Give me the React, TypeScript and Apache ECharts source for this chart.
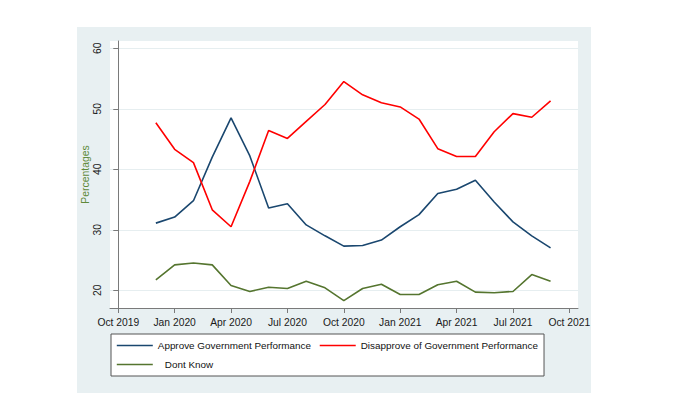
import React, { useEffect, useRef } from "react";
import * as echarts from "echarts";

// Months (YYYY-MM) of each survey point
const months = [
  "2019-12", "2020-01", "2020-02", "2020-03", "2020-04", "2020-05", "2020-06",
  "2020-07", "2020-08", "2020-09", "2020-10", "2020-11", "2020-12", "2021-01",
  "2021-02", "2021-03", "2021-04", "2021-05", "2021-06", "2021-07", "2021-08",
  "2021-09",
];

const approve = [
  31.1, 32.1, 34.8, 42.0, 48.5, 42.2, 33.6, 34.3, 30.8, 29.0, 27.3, 27.4,
  28.3, 30.5, 32.5, 36.0, 36.7, 38.2, 34.6, 31.3, 29.0, 27.0,
];

const disapprove = [
  47.7, 43.3, 41.1, 33.3, 30.5, 38.0, 46.4, 45.1, 47.9, 50.7, 54.5, 52.3,
  51.0, 50.3, 48.3, 43.4, 42.1, 42.1, 46.2, 49.2, 48.6, 51.3,
];

const dontKnow = [
  21.7, 24.2, 24.5, 24.2, 20.8, 19.8, 20.5, 20.3, 21.5, 20.4, 18.3, 20.3,
  21.0, 19.3, 19.3, 20.9, 21.5, 19.7, 19.6, 19.8, 22.6, 21.5,
];

// x tick labels (quarterly)
const xTickMonths = ["2019-10", "2020-01", "2020-04", "2020-07", "2020-10", "2021-01", "2021-04", "2021-07", "2021-10"];
const xTickLabels = ["Oct 2019", "Jan 2020", "Apr 2020", "Jul 2020", "Oct 2020", "Jan 2021", "Apr 2021", "Jul 2021", "Oct 2021"];
const yTicks = [20, 30, 40, 50, 60];

const seriesNames = [
  "Approve Government Performance",
  "Disapprove of Government Performance",
  "Dont Know",
];

function monthIndex(m: string): number {
  const [y, mo] = m.split("-").map(Number);
  return (y - 2019) * 12 + (mo - 10);
}

export default function App() {
  const ref = useRef<HTMLDivElement>(null);

  useEffect(() => {
    if (!ref.current) return;
    const chart = echarts.init(ref.current, null, { renderer: "svg" });
    const xs = months.map(monthIndex);
    const xTickVals = xTickMonths.map(monthIndex);
    const labelMap: Record<number, string> = {};
    xTickVals.forEach((v, i) => (labelMap[v] = xTickLabels[i]));
    const font = "'Liberation Sans', Arial, Helvetica, sans-serif";
    const mk = (vals: number[]) => vals.map((v, i) => [xs[i], v]);

    chart.setOption({
      animation: false,
      backgroundColor: "#ffffff",
      textStyle: { fontFamily: font },
      graphic: [
        {
          type: "rect",
          z: -10,
          silent: true,
          shape: { x: 77, y: 27, width: 514, height: 366 },
          style: { fill: "#e8f0f2" },
        },
      ],
      grid: {
        left: 110,
        top: 41,
        right: 117,
        bottom: 98,
        show: true,
        backgroundColor: "#ffffff",
        borderWidth: 0,
      },
      xAxis: {
        type: "value",
        min: -0.44,
        max: 24.46,
        axisLine: { show: true, onZero: false, lineStyle: { color: "#7a7a7a", width: 1 } },
        axisTick: {
          show: true,
          length: 5,
          customValues: xTickVals,
          lineStyle: { color: "#7a7a7a" },
        },
        axisLabel: {
          customValues: xTickVals,
          margin: 9,
          fontSize: 10.3,
          color: "#1a1a1a",
          fontFamily: font,
          formatter: (v: number) => labelMap[Math.round(v)] ?? "",
        },
        splitLine: { show: false },
      },
      yAxis: {
        type: "value",
        min: 17.07,
        max: 61.2,
        name: "Percentages",
        nameLocation: "middle",
        nameGap: 20,
        nameMoveOverlap: false,
        nameTextStyle: { color: "#5f8a3a", fontSize: 10.4, fontFamily: font },
        axisLine: { show: true, lineStyle: { color: "#7a7a7a", width: 1 } },
        axisTick: {
          show: true,
          length: 5,
          customValues: yTicks,
          lineStyle: { color: "#7a7a7a" },
        },
        axisLabel: {
          customValues: yTicks,
          rotate: 90,
          margin: 8,
          fontSize: 10.3,
          color: "#1a1a1a",
          fontFamily: font,
        },
        splitLine: { show: true, lineStyle: { color: "#e6eef0", width: 1 } },
      },
      legend: {
        left: 111,
        top: 334,
        orient: "horizontal",
        width: 425,
        padding: [6, 6, 6, 5],
        itemGap: 8,
        itemWidth: 36,
        itemHeight: 11,
        backgroundColor: "#ffffff",
        borderColor: "#555555",
        borderWidth: 1,
        borderRadius: 0,
        itemStyle: { opacity: 0 },
        lineStyle: { width: 1.6 },
        textStyle: { fontSize: 9.9, lineHeight: 11, color: "#111", fontFamily: font },
        data: [
          { name: seriesNames[0] },
          { name: seriesNames[1] },
          { name: seriesNames[2], textStyle: { padding: [0, 0, 0, 7] } },
        ],
      },
      series: [
        {
          name: seriesNames[0],
          type: "line",
          data: mk(approve),
          symbol: "none",
          lineStyle: { color: "#1a476f", width: 1.6 },
          itemStyle: { color: "#1a476f" },
        },
        {
          name: seriesNames[1],
          type: "line",
          data: mk(disapprove),
          symbol: "none",
          lineStyle: { color: "#ff0000", width: 1.6 },
          itemStyle: { color: "#ff0000" },
        },
        {
          name: seriesNames[2],
          type: "line",
          data: mk(dontKnow),
          symbol: "none",
          lineStyle: { color: "#55752f", width: 1.6 },
          itemStyle: { color: "#55752f" },
        },
      ],
    });
    return () => chart.dispose();
  }, []);

  return (
    <div
      ref={ref}
      style={{ position: "fixed", left: 0, top: 0, width: 695, height: 406 }}
    />
  );
}
